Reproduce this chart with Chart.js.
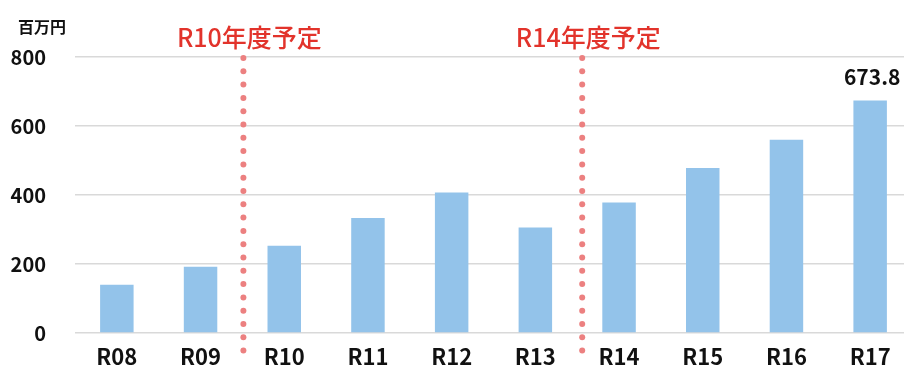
<!DOCTYPE html>
<html lang="ja">
<head>
<meta charset="utf-8">
<script src="https://cdn.jsdelivr.net/npm/chart.js@4/dist/chart.umd.min.js"></script>
<style>
  html, body { margin: 0; padding: 0; background: #fff; overflow: hidden; }
  #wrap { width: 912px; height: 380px; }
</style>
</head>
<body>
<div id="wrap"><canvas id="chart"></canvas></div>
<script>
// 年度別の金額（百万円）
const years = ['R08', 'R09', 'R10', 'R11', 'R12', 'R13', 'R14', 'R15', 'R16', 'R17'];
const amounts = [140, 192, 253, 333, 407, 306, 378, 478, 560, 673.8];
const yTicks = [0, 200, 400, 600, 800];
// 予定の区切り（この年度から予定）
const plannedFrom = ['R10', 'R14'];
const plannedText = ['R10年度予定', 'R14年度予定'];
const unitText = '百万円';
const labeledYears = ['R17'];

const FONT = "'Noto Sans CJK JP', 'Noto Sans', sans-serif";

const overlay = {
    id: 'overlay',
    afterDraw(chart) {
        const { ctx, chartArea, scales } = chart;
        const x = scales.x;
        ctx.save();

        // unit label above the y axis
        ctx.fillStyle = '#111';
        ctx.font = `bold 16px ${FONT}`;
        ctx.textAlign = 'center';
        ctx.textBaseline = 'alphabetic';
        ctx.fillText(unitText, 42, 33);

        // dotted dividers with their captions
        plannedFrom.forEach((year, i) => {
            const idx = years.indexOf(year);
            const px = x.getPixelForValue(idx - 0.5) + (i ? 5 : 1);
            ctx.fillStyle = '#EC8080';
            for (let y = chartArea.top + 1; y <= 353; y += 13.3) {
                ctx.beginPath();
                ctx.arc(px, y, 3, 0, Math.PI * 2);
                ctx.fill();
            }
            ctx.fillStyle = '#E2332B';
            ctx.font = `500 25px ${FONT}`;
            ctx.textAlign = 'center';
            ctx.fillText(plannedText[i], px + 6, 47);
        });

        // value labels
        const meta = chart.getDatasetMeta(0);
        ctx.fillStyle = '#111';
        ctx.font = `bold 21px ${FONT}`;
        ctx.textAlign = 'center';
        labeledYears.forEach(year => {
            const idx = years.indexOf(year);
            const bar = meta.data[idx];
            ctx.fillText(String(amounts[idx]), bar.x + 2, bar.y - 16);
        });
        ctx.restore();
    }
};

new Chart(document.getElementById('chart'), {
    type: 'bar',
    data: {
        labels: years,
        datasets: [{
            data: amounts,
            backgroundColor: '#93C3EA',
            borderWidth: 0,
            barPercentage: 0.4,
            categoryPercentage: 1
        }]
    },
    options: {
        responsive: true,
        maintainAspectRatio: false,
        animation: false,
        devicePixelRatio: 1,
        layout: { padding: { top: 57, left: 0, right: 0, bottom: 0 } },
        plugins: {
            legend: { display: false },
            tooltip: { enabled: false }
        },
        scales: {
            x: {
                grid: { display: false },
                border: { display: false },
                ticks: {
                    color: '#111',
                    font: { family: FONT, size: 22, weight: 'bold' },
                    padding: 2,
                    maxRotation: 0
                },
                afterFit(scale) { scale.height = 47; }
            },
            y: {
                min: 0,
                max: 800,
                afterBuildTicks(scale) {
                    scale.ticks = yTicks.map(v => ({ value: v }));
                },
                grid: { color: '#D9D9D9', lineWidth: 1.5, drawTicks: false },
                border: { display: false },
                ticks: {
                    color: '#111',
                    font: { family: FONT, size: 20, weight: 'bold' },
                    padding: 29
                },
                afterFit(scale) { scale.width = 75; }
            }
        }
    },
    plugins: [overlay]
});
</script>
</body>
</html>
